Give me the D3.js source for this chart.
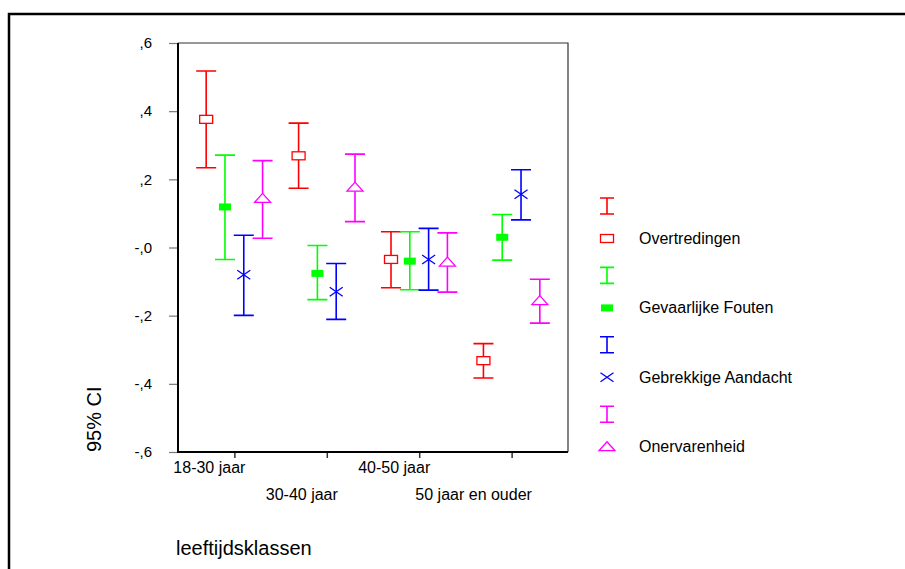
<!DOCTYPE html>
<html>
<head>
<meta charset="utf-8">
<script src="https://cdn.jsdelivr.net/npm/d3@7"></script>
<style>
  body { margin: 0; background: #fff; }
  text { font-family: "Liberation Sans", Arial, sans-serif; }
</style>
</head>
<body>
<div id="chart"></div>
<script>
// age classes and the four scales
const categories = ["18-30 jaar", "30-40 jaar", "40-50 jaar", "50 jaar en ouder"];
const seriesNames = ["Overtredingen", "Gevaarlijke Fouten", "Gebrekkige Aandacht", "Onervarenheid"];
const seriesColors = ["#ff0000", "#00ff00", "#0000ff", "#ff00ff"];
const seriesMarkers = ["square", "filled", "cross", "triangle"];

// mean and 95% CI bounds per series, one value per age class
const overtredingenMean = [0.376, 0.269, -0.035, -0.332];
const overtredingenLow = [0.234, 0.174, -0.118, -0.383];
const overtredingenHigh = [0.518, 0.365, 0.046, -0.282];

const foutenMean = [0.119, -0.076, -0.040, 0.030];
const foutenLow = [-0.035, -0.153, -0.124, -0.037];
const foutenHigh = [0.271, 0.006, 0.046, 0.097];

const aandachtMean = [-0.080, -0.130, -0.035, 0.156];
const aandachtLow = [-0.199, -0.211, -0.125, 0.081];
const aandachtHigh = [0.036, -0.047, 0.056, 0.228];

const onervarenMean = [0.144, 0.177, -0.043, -0.156];
const onervarenLow = [0.027, 0.076, -0.131, -0.222];
const onervarenHigh = [0.255, 0.274, 0.043, -0.093];

const yTickValues = [0.6, 0.4, 0.2, 0, -0.2, -0.4, -0.6];
const yTickLabels = [",6", ",4", ",2", "-,0", "-,2", "-,4", "-,6"];

const means = [overtredingenMean, foutenMean, aandachtMean, onervarenMean];
const lows = [overtredingenLow, foutenLow, aandachtLow, onervarenLow];
const highs = [overtredingenHigh, foutenHigh, aandachtHigh, onervarenHigh];

const W = 905, H = 569;
const PLOT = { LEFT: 178, RIGHT: 568, TOP: 43, BOTTOM: 452 };

const svg = d3.select('#chart')
  .append('svg')
    .attr('width', W)
    .attr('height', H);

// outer frame (only top and left visible)
svg.append('path')
  .attr('d', `M9,${H + 5} V14 H${W + 5}`)
  .attr('fill', 'none')
  .attr('stroke', '#000')
  .attr('stroke-width', 2.5);

const x = d3.scalePoint()
  .domain(categories)
  .range([PLOT.LEFT, PLOT.RIGHT])
  .padding(0.61);

const xs = d3.scalePoint()
  .domain(seriesNames)
  .range([-28.2, 28.2]);

const y = d3.scaleLinear()
  .domain([-0.6, 0.6])
  .range([PLOT.BOTTOM, PLOT.TOP]);

// box: thin top and right, heavy left and bottom
svg.append('path')
  .attr('d', `M${PLOT.LEFT},${PLOT.TOP} H${PLOT.RIGHT} V${PLOT.BOTTOM}`)
  .attr('fill', 'none')
  .attr('stroke', '#333')
  .attr('stroke-width', 1.2);

// y axis
const yAxis = svg.append('g')
  .attr('transform', `translate(${PLOT.LEFT},0)`)
  .call(d3.axisLeft(y)
    .tickValues(yTickValues)
    .tickSize(9)
    .tickPadding(17)
    .tickFormat((d, i) => yTickLabels[i]));
yAxis.select('.domain').remove();
yAxis.selectAll('.tick line').attr('stroke', '#777').attr('stroke-width', 1.2);
yAxis.selectAll('.tick text')
  .attr('fill', '#000')
  .style('font-size', '15px')
  .style('font-family', '"Liberation Sans", Arial, sans-serif');

// x axis ticks, labels drawn separately in two staggered rows
const xAxis = svg.append('g')
  .attr('transform', `translate(0,${PLOT.BOTTOM})`)
  .call(d3.axisBottom(x).tickSize(6).tickFormat(''));
xAxis.select('.domain').remove();
xAxis.selectAll('.tick line').attr('stroke', '#333').attr('stroke-width', 1.5);

const labelNudge = [-25, -25, -25, -38];
svg.append('g')
  .selectAll('text')
  .data(categories)
  .join('text')
    .attr('x', (d, i) => x(d) + labelNudge[i])
    .attr('y', (d, i) => i % 2 === 0 ? PLOT.BOTTOM + 21 : PLOT.BOTTOM + 48)
    .attr('text-anchor', 'middle')
    .style('font-size', '16px')
    .text(d => d);

// heavy axis lines
svg.append('path')
  .attr('d', `M${PLOT.LEFT},${PLOT.TOP} V${PLOT.BOTTOM} H${PLOT.RIGHT}`)
  .attr('fill', 'none')
  .attr('stroke', '#000')
  .attr('stroke-width', 2);

// axis titles
svg.append('text')
  .attr('transform', `translate(101,${PLOT.BOTTOM}) rotate(-90)`)
  .attr('text-anchor', 'start')
  .style('font-size', '20px')
  .text('95% CI');

svg.append('text')
  .attr('x', PLOT.LEFT - 2)
  .attr('y', 555)
  .style('font-size', '20px')
  .text('leeftijdsklassen');

// marker drawing
function drawMarker(g, type, color) {
  if (type === 'square') {
    g.append('rect').attr('x', -6.5).attr('y', -4).attr('width', 13).attr('height', 8)
      .attr('fill', '#fff').attr('stroke', color).attr('stroke-width', 1.3);
  } else if (type === 'filled') {
    g.append('rect').attr('x', -6).attr('y', -3.5).attr('width', 12).attr('height', 7)
      .attr('fill', color);
  } else if (type === 'cross') {
    g.append('path').attr('d', 'M-6.5,-4.5 L6.5,4.5 M-6.5,4.5 L6.5,-4.5')
      .attr('stroke', color).attr('stroke-width', 1.3).attr('fill', 'none');
  } else if (type === 'triangle') {
    g.append('path').attr('d', 'M0,-5 L8,4 L-8,4 Z')
      .attr('fill', '#fff').attr('stroke', color).attr('stroke-width', 1.3);
  }
}

// error bars
const capHalf = 10;
seriesNames.forEach((name, s) => {
  const color = seriesColors[s];
  const g = svg.append('g');
  categories.forEach((cat, i) => {
    const cx = x(cat) + xs(name);
    g.append('path')
      .attr('d', `M${cx},${y(highs[s][i])} V${y(lows[s][i])}` +
        ` M${cx - capHalf},${y(highs[s][i])} H${cx + capHalf}` +
        ` M${cx - capHalf},${y(lows[s][i])} H${cx + capHalf}`)
      .attr('stroke', color)
      .attr('stroke-width', 1.6)
      .attr('fill', 'none');
    const m = g.append('g').attr('transform', `translate(${cx},${y(means[s][i])})`);
    drawMarker(m, seriesMarkers[s], color);
  });
});

// legend
const legend = svg.append('g').attr('transform', 'translate(607,206)');
seriesNames.forEach((name, s) => {
  const color = seriesColors[s];
  const row = legend.append('g').attr('transform', `translate(0,${s * 69.4})`);
  row.append('path')
    .attr('d', 'M0,-8 V8 M-7,-8 H7 M-7,8 H7')
    .attr('stroke', color)
    .attr('stroke-width', 1.6)
    .attr('fill', 'none');
  const m = row.append('g').attr('transform', 'translate(0,32.5)');
  drawMarker(m, seriesMarkers[s], color);
  row.append('text')
    .attr('x', 32)
    .attr('y', 32.5)
    .attr('dy', '0.35em')
    .style('font-size', '16px')
    .text(name);
});
</script>
</body>
</html>
